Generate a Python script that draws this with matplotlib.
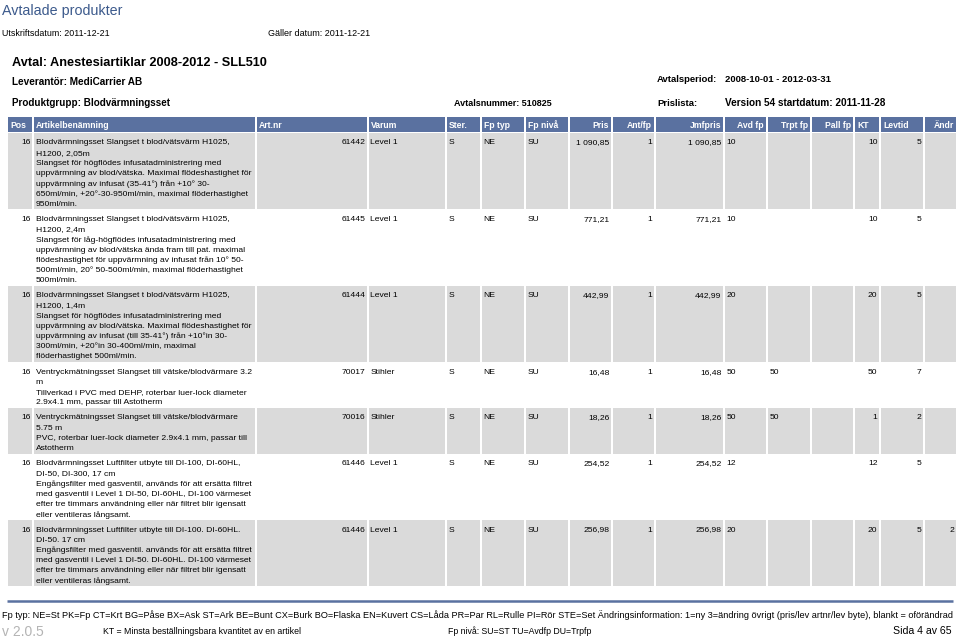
import matplotlib.pyplot as plt
from matplotlib.patches import Rectangle

# page texts
title = 'Avtalade produkter'
print_date = 'Utskriftsdatum: 2011-12-21'
valid_date = 'Gäller datum: 2011-12-21'
contract = 'Avtal: Anestesiartiklar 2008-2012 - SLL510'
supplier = 'Leverantör: MediCarrier AB'
product_group = 'Produktgrupp: Blodvärmningsset'
contract_number = 'Avtalsnummer: 510825'
period_label, period_value = 'Avtalsperiod:', '2008-10-01 - 2012-03-31'
pricelist_label, pricelist_value = 'Prislista:', 'Version 54 startdatum: 2011-11-28'

headers = ['Pos', 'Artikelbenämning', 'Art.nr', 'Varum', 'Ster.', 'Fp typ', 'Fp nivå', 'Pris',
           'Ant/fp', 'Jmfpris', 'Avd fp', 'Trpt fp', 'Pall fp', 'KT', 'Levtid', 'Ändr']

# table rows
pos = ['16', '16', '16', '16', '16', '16', '16']
descriptions = [
    ['Blodvärmningsset Slangset t blod/vätsvärm H1025,',
     'H1200, 2,05m',
     'Slangset för högflödes infusatadministrering med',
     'uppvärmning av blod/vätska. Maximal flödeshastighet för',
     'uppvärmning av infusat (35-41°) från +10° 30-',
     '650ml/min, +20°-30-950ml/min, maximal flöderhastighet',
     '950ml/min.'],
    ['Blodvärmningsset Slangset t blod/vätsvärm H1025,',
     'H1200, 2,4m',
     'Slangset för låg-högflödes infusatadministrering med',
     'uppvärmning av blod/vätska ända fram till pat. maximal',
     'flödeshastighet för uppvärmning av infusat från 10° 50-',
     '500ml/min, 20° 50-500ml/min, maximal flöderhastighet',
     '500ml/min.'],
    ['Blodvärmningsset Slangset t blod/vätsvärm H1025,',
     'H1200, 1,4m',
     'Slangset för högflödes infusatadministrering med',
     'uppvärmning av blod/vätska. Maximal flödeshastighet för',
     'uppvärmning av infusat (till 35-41°) från +10°in 30-',
     '300ml/min, +20°in 30-400ml/min, maximal',
     'flöderhastighet 500ml/min.'],
    ['Ventryckmätningsset Slangset till vätske/blodvärmare 3.2',
     'm',
     'Tillverkad i PVC med DEHP, roterbar luer-lock diameter',
     '2.9x4.1 mm, passar till Astotherm'],
    ['Ventryckmätningsset Slangset till vätske/blodvärmare',
     '5.75 m',
     'PVC, roterbar luer-lock diameter 2.9x4.1 mm, passar till',
     'Astotherm'],
    ['Blodvärmningsset Luftfilter utbyte till DI-100, DI-60HL,',
     'DI-50, DI-300, 17 cm',
     'Engångsfilter med gasventil, används för att ersätta filtret',
     'med gasventil i Level 1 DI-50, DI-60HL, DI-100 värmeset',
     'efter tre timmars användning eller när filtret blir igensatt',
     'eller ventileras långsamt.'],
    ['Blodvärmningsset Luftfilter utbyte till DI-100. DI-60HL.',
     'DI-50. 17 cm',
     'Engångsfilter med gasventil. används för att ersätta filtret',
     'med gasventil i Level 1 DI-50. DI-60HL. DI-100 värmeset',
     'efter tre timmars användning eller när filtret blir igensatt',
     'eller ventileras långsamt.'],
]
art_nr = ['61442', '61445', '61444', '70017', '70016', '61446', '61446']
varum = ['Level 1', 'Level 1', 'Level 1', 'Stihler', 'Stihler', 'Level 1', 'Level 1']
ster = ['S', 'S', 'S', 'S', 'S', 'S', 'S']
fp_typ = ['NE', 'NE', 'NE', 'NE', 'NE', 'NE', 'NE']
fp_niva = ['SU', 'SU', 'SU', 'SU', 'SU', 'SU', 'SU']
pris = ['1 090,85', '771,21', '442,99', '16,48', '18,26', '254,52', '256,98']
ant_fp = ['1', '1', '1', '1', '1', '1', '1']
jmfpris = ['1 090,85', '771,21', '442,99', '16,48', '18,26', '254,52', '256,98']
avd_fp = ['10', '10', '20', '50', '50', '12', '20']
trpt_fp = ['', '', '', '50', '50', '', '']
pall_fp = ['', '', '', '', '', '', '']
kt = ['10', '10', '20', '50', '1', '12', '20']
levtid = ['5', '5', '5', '7', '2', '5', '5']
andr = ['', '', '', '', '', '', '2']

footer_codes = ('Fp typ: NE=St PK=Fp CT=Krt BG=Påse BX=Ask ST=Ark BE=Bunt CX=Burk BO=Flaska '
                'EN=Kuvert CS=Låda PR=Par RL=Rulle PI=Rör STE=Set Ändringsinformation: 1=ny '
                '3=ändring övrigt (pris/lev artnr/lev byte), blankt = oförändrad')
version = 'v 2.0.5'
kt_note = 'KT = Minsta beställningsbara kvantitet av en artikel'
level_note = 'Fp nivå: SU=ST TU=Avdfp DU=Trpfp'
page_note = 'Sida 4 av 65'

# layout
edges = [7, 33, 256, 368, 446, 481, 525, 569, 612, 655, 724, 767, 811, 854, 880, 924, 957]
header_align = ['l', 'l', 'l', 'l', 'l', 'l', 'l', 'r', 'r', 'r', 'r', 'r', 'r', 'l', 'l', 'r']
cell_align = ['r', 'l', 'r', 'l', 'l', 'l', 'l', 'r', 'r', 'r', 'l', 'l', 'r', 'r', 'r', 'r']
blue = '#5a71a0'
grey = '#dadada'
body_font = 'Liberation Sans'
body_size = 6.1
line_h = 10.2

plt.rcParams['font.family'] = [body_font, 'DejaVu Sans']

fig = plt.figure(figsize=(9.6, 6.41), dpi=100)
ax = fig.add_axes([0, 0, 1, 1])
ax.set_xlim(0, 960)
ax.set_ylim(641, 0)
ax.axis('off')


def put(x, y, s, align='l', **kw):
    ha = {'l': 'left', 'r': 'right'}[align]
    ax.text(x, y, s, ha=ha, va='center_baseline', **kw)


def cell_x(i, align, pad=2.5):
    return edges[i] + pad if align == 'l' else edges[i + 1] - pad


# page header
put(2, 10, title, fontsize=10.3, color='#3c5a8c')
put(2, 32, print_date, fontsize=6.4)
put(268, 32, valid_date, fontsize=6.5)
put(12, 61, contract, fontsize=9.2, fontweight='bold')
put(12, 81, supplier, fontsize=7.2, fontweight='bold')
put(12, 102, product_group, fontsize=7.1, fontweight='bold')
put(454, 102, contract_number, fontsize=6.5, fontweight='bold')
put(657, 78, period_label, fontsize=6.8, fontweight='bold')
put(725, 78, period_value, fontsize=6.8, fontweight='bold')
put(657, 102, pricelist_label, fontsize=6.8, fontweight='bold')
put(725, 102, pricelist_value, fontsize=7.2, fontweight='bold')

# table header
for i, h in enumerate(headers):
    ax.add_patch(Rectangle((edges[i] + 1, 117), edges[i + 1] - edges[i] - 2, 15,
                           facecolor=blue, edgecolor='none'))
    put(cell_x(i, header_align[i], 3), 124.5, h, header_align[i],
        fontsize=6.2, fontweight='bold', color='white')

# table body
columns = [pos, None, art_nr, varum, ster, fp_typ, fp_niva, pris, ant_fp, jmfpris,
           avd_fp, trpt_fp, pall_fp, kt, levtid, andr]
top = 133
for r, lines in enumerate(descriptions):
    height = len(lines) * line_h + 5
    if r % 2 == 0:
        for i in range(len(edges) - 1):
            ax.add_patch(Rectangle((edges[i] + 1, top), edges[i + 1] - edges[i] - 2, height,
                                   facecolor=grey, edgecolor='none'))
    first = top + 9
    for k, line in enumerate(lines):
        put(cell_x(1, 'l'), first + k * line_h, line, fontsize=body_size)
    for i, col in enumerate(columns):
        if col is None:
            continue
        put(cell_x(i, cell_align[i]), first, col[r], cell_align[i], fontsize=body_size)
    top += height

# footer
ax.plot([7, 953], [600.5, 600.5], color=blue, linewidth=1.8, solid_capstyle='butt')
put(2, 614, footer_codes, fontsize=6.55)
put(2, 631, version, fontsize=10.0, color='#b4b4b4')
put(103, 630, kt_note, fontsize=6.3)
put(448, 630, level_note, fontsize=6.3)
put(952, 630, page_note, 'r', fontsize=7.6)

fig.savefig('out.png', dpi=100)
